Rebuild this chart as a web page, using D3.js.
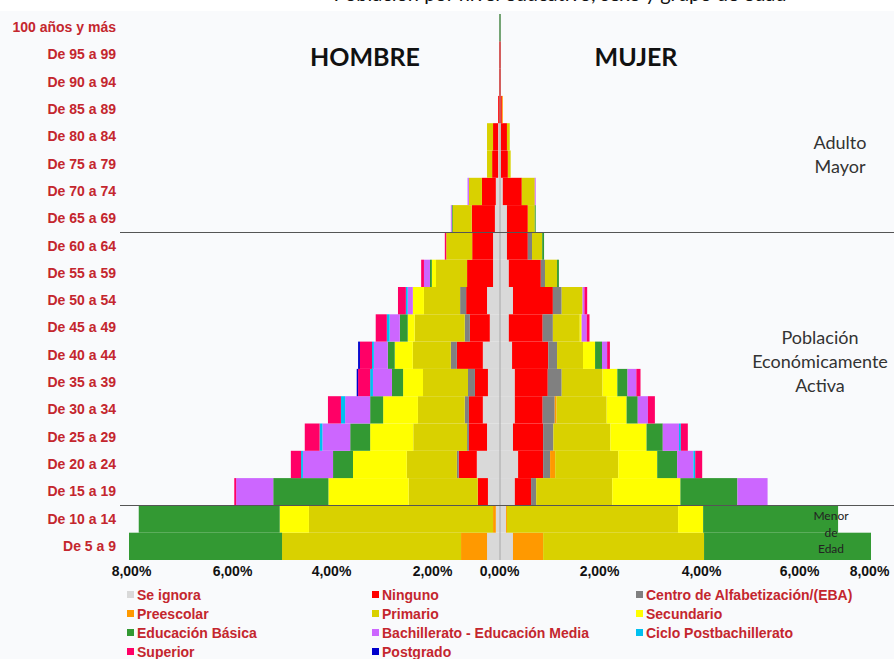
<!DOCTYPE html>
<html>
<head>
<meta charset="utf-8">
<script src="https://cdn.jsdelivr.net/npm/d3@7"></script>
<style>
  html, body { margin: 0; padding: 0; background: #f9fafc; }
  svg { display: block; }
</style>
</head>
<body>
<svg id="chart" width="894" height="659"></svg>
<script>
// ---------- DATA ----------
const ages = ["100 años y más","De 95 a 99","De 90 a 94","De 85 a 89","De 80 a 84","De 75 a 79",
  "De 70 a 74","De 65 a 69","De 60 a 64","De 55 a 59","De 50 a 54","De 45 a 49","De 40 a 44",
  "De 35 a 39","De 30 a 34","De 25 a 29","De 20 a 24","De 15 a 19","De 10 a 14","De 5 a 9"];

const levels = ["Se ignora","Ninguno","Centro de Alfabetización/(EBA)","Preescolar","Primario",
  "Secundario","Educación Básica","Bachillerato - Educación Media","Ciclo Postbachillerato",
  "Superior","Postgrado"];

const levelColors = ["#d9d9d9","#ff0000","#808080","#ff9900","#d9d100","#ffff00","#339933",
  "#cc66ff","#00c0f0","#ff0066","#0000cc"];

// HOMBRE (% of population), rows in the order of `ages`
const hSeIgnora   = [0,0,0,0,0.04,0.04,0.09,0.11,0.15,0.15,0.28,0.22,0.37,0.26,0.37,0.28,0.50,0.26,0.09,0.28];
const hNinguno    = [0,0.02,0.02,0.04,0.11,0.13,0.30,0.50,0.45,0.56,0.45,0.43,0.56,0.28,0.30,0.39,0.39,0.22,0,0];
const hCentro     = [0,0,0,0,0,0,0,0,0,0,0.13,0.11,0.13,0.15,0.09,0.04,0.04,0,0,0];
const hPreescolar = [0,0,0,0,0,0,0,0,0,0,0,0,0,0,0,0,0,0,0.06,0.56];
const hPrimario   = [0,0,0,0,0.13,0.11,0.28,0.41,0.56,0.67,0.78,1.08,0.82,0.97,1.01,1.16,1.08,1.49,3.97,3.86];
const hSecundario = [0,0,0,0,0,0,0,0,0,0.09,0.24,0.15,0.39,0.43,0.75,0.93,1.16,1.73,0.63,0];
const hBasica     = [0.02,0,0,0,0,0,0,0.02,0,0.04,0,0.17,0.15,0.24,0.28,0.43,0.43,1.19,3.04,3.30];
const hBach       = [0,0,0,0,0,0,0.03,0.02,0,0.13,0.11,0.22,0.30,0.41,0.54,0.60,0.65,0.80,0,0];
const hPostbach   = [0,0,0,0,0,0,0,0,0,0,0.04,0.06,0.04,0.06,0.09,0.06,0.04,0,0,0];
const hSuperior   = [0,0,0,0,0,0,0,0,0.03,0.06,0.17,0.24,0.26,0.26,0.28,0.32,0.22,0.04,0,0];
const hPostgrado  = [0,0,0,0,0,0,0,0,0,0,0,0,0.04,0.03,0,0,0,0,0,0];

// MUJER
const mSeIgnora   = [0,0,0,0,0.02,0.02,0.06,0.15,0.15,0.19,0.28,0.19,0.26,0.32,0.32,0.28,0.39,0.32,0.13,0.28];
const mNinguno    = [0,0.02,0.02,0.04,0.13,0.15,0.41,0.45,0.45,0.69,0.86,0.73,0.78,0.71,0.60,0.65,0.54,0.35,0,0];
const mCentro     = [0,0,0,0,0,0,0,0,0.09,0.09,0.19,0.22,0.19,0.30,0.26,0.22,0.15,0.11,0,0];
const mPreescolar = [0,0,0,0.02,0,0,0,0,0,0,0,0,0,0,0.04,0,0.11,0,0.02,0.65];
const mPrimario   = [0,0,0,0,0.06,0.06,0.28,0.15,0.22,0.26,0.45,0.58,0.56,0.88,1.08,1.23,1.36,1.64,3.69,3.47];
const mSecundario = [0,0,0,0,0,0,0,0,0,0,0,0.04,0.26,0.32,0.43,0.78,0.84,1.47,0.54,0];
const mBasica     = [0.02,0,0,0,0,0,0,0.02,0.04,0.04,0,0,0.15,0.22,0.24,0.35,0.43,1.23,2.91,3.60];
const mBach       = [0,0,0,0,0,0,0.02,0,0,0,0.04,0.11,0.11,0.19,0.22,0.35,0.35,0.65,0,0];
const mPostbach   = [0,0,0,0,0,0,0,0,0,0,0,0,0,0,0,0.04,0.04,0,0,0];
const mSuperior   = [0,0,0,0,0,0,0,0,0,0,0.06,0.06,0.06,0.09,0.15,0.15,0.15,0,0,0];
const mPostgrado  = [0,0,0,0,0,0,0,0,0,0,0,0,0,0,0,0,0,0,0,0];

const tickValues = [-8,-6,-4,-2,0,2,4,6,8];
const tickLabels = ["8,00%","6,00%","4,00%","2,00%","0,00%","2,00%","4,00%","6,00%","8,00%"];

const groupLabels = [
  {lines:["Adulto","Mayor"], from:"De 85 a 89", to:"De 65 a 69"},
  {lines:["Población","Económicamente","Activa"], from:"De 50 a 54", to:"De 30 a 34"},
];

// ---------- BUILD ----------
const hSeries = [hSeIgnora,hNinguno,hCentro,hPreescolar,hPrimario,hSecundario,hBasica,hBach,hPostbach,hSuperior,hPostgrado];
const mSeries = [mSeIgnora,mNinguno,mCentro,mPreescolar,mPrimario,mSecundario,mBasica,mBach,mPostbach,mSuperior,mPostgrado];

function table(series){
  return ages.map((a,i)=>{
    const o = {age:a};
    levels.forEach((l,j)=>{ o[l] = series[j][i]; });
    return o;
  });
}

const svg = d3.select("#chart");
const W = 894, H = 659;

// white strip at top with clipped title
svg.append("rect").attr("x",0).attr("y",0).attr("width",W).attr("height",11).attr("fill","#ffffff");
svg.append("text").attr("x",560).attr("y",1)
  .attr("text-anchor","middle")
  .style("font-family","Lato, 'Open Sans', sans-serif").style("font-size","20px").attr("fill","#111")
  .text("Población por nivel educativo, sexo y grupo de edad");

const x = d3.scaleLinear().domain([-8,8]).range([129,871]);
const y = d3.scaleBand().domain(ages).range([14,560]).padding(0);
const color = d3.scaleOrdinal().domain(levels).range(levelColors);

const stack = d3.stack().keys(levels);
const hStack = stack(table(hSeries));
const mStack = stack(table(mSeries));

const bars = svg.append("g");
hStack.forEach(layer=>{
  bars.append("g").attr("fill", color(layer.key))
    .selectAll("rect").data(layer.filter(d=>d[1]-d[0]>0)).join("rect")
    .attr("x", d=>x(-d[1]))
    .attr("width", d=>x(-d[0]) - x(-d[1]))
    .attr("y", d=>y(d.data.age))
    .attr("height", y.bandwidth());
});
mStack.forEach(layer=>{
  bars.append("g").attr("fill", color(layer.key))
    .selectAll("rect").data(layer.filter(d=>d[1]-d[0]>0)).join("rect")
    .attr("x", d=>x(d[0]))
    .attr("width", d=>x(d[1]) - x(d[0]))
    .attr("y", d=>y(d.data.age))
    .attr("height", y.bandwidth());
});

// center axis line
svg.append("line").attr("x1",x(0)).attr("x2",x(0))
  .attr("y1",y(ages[0])).attr("y2",y(ages[ages.length-1])+y.bandwidth())
  .attr("stroke","#a8a8a8").attr("stroke-width",1);

// divider lines
[ "De 60 a 64", "De 10 a 14" ].forEach(a=>{
  svg.append("line").attr("x1",120).attr("x2",W)
    .attr("y1",Math.round(y(a))+0.5).attr("y2",Math.round(y(a))+0.5)
    .attr("stroke","#555").attr("stroke-width",1);
});

// y labels
const yAxis = d3.axisLeft(y).tickSize(0).tickPadding(0);
const gy = svg.append("g").attr("transform","translate(116,0)").call(yAxis);
gy.select(".domain").remove();
gy.selectAll("text")
  .style("font-family","'Liberation Sans', Arial, sans-serif")
  .style("font-weight","bold").style("font-size","14px")
  .attr("fill","#c4262e");

// x tick labels (positions as printed in the original)
const xLab = d3.scaleLinear().domain(tickValues).range([131,232,331,432,499,599,701,799,869]);
const xAxis = d3.axisBottom(xLab).tickValues(tickValues).tickSize(0).tickPadding(0)
  .tickFormat((d,i)=>tickLabels[i]);
const gx = svg.append("g").attr("transform","translate(0,566)").call(xAxis);
gx.select(".domain").remove();
gx.selectAll("text")
  .style("font-family","'Liberation Sans', Arial, sans-serif")
  .style("font-weight","bold").style("font-size","14px")
  .attr("fill","#111");

// HOMBRE / MUJER
svg.append("text").attr("x",365).attr("y",66).attr("text-anchor","middle")
  .style("font-family","Lato, 'Open Sans', sans-serif").style("font-weight","bold").style("font-size","25px")
  .attr("fill","#111").text("HOMBRE");
svg.append("text").attr("x",636).attr("y",66).attr("text-anchor","middle")
  .style("font-family","Lato, 'Open Sans', sans-serif").style("font-weight","bold").style("font-size","25px")
  .attr("fill","#111").text("MUJER");

// group annotations
const ann = svg.append("g")
  .style("font-family","Lato, 'Open Sans', sans-serif").style("font-size","18px").attr("fill","#333");
ann.append("text").attr("x",840).attr("text-anchor","middle")
  .selectAll("tspan").data(["Adulto","Mayor"]).join("tspan")
  .attr("x",840).attr("y",(d,i)=>149+i*24).text(d=>d);
ann.append("text").attr("x",820).attr("text-anchor","middle")
  .selectAll("tspan").data(["Población","Económicamente","Activa"]).join("tspan")
  .attr("x",820).attr("y",(d,i)=>344+i*24).text(d=>d);
svg.append("text").attr("text-anchor","middle")
  .style("font-family","Lato, 'Open Sans', sans-serif").style("font-size","12px").attr("fill","#222")
  .selectAll("tspan").data(["Menor","de","Edad"]).join("tspan")
  .attr("x",831).attr("y",(d,i)=>520+i*16.5).text(d=>d);

// legend
const colX = [127, 372, 636];
const rowY = [595, 614, 633, 652];
const leg = svg.append("g");
levels.forEach((l,i)=>{
  const cx = colX[i%3], cy = rowY[Math.floor(i/3)];
  const g = leg.append("g").attr("transform",`translate(${cx},${cy})`);
  g.append("rect").attr("x",0).attr("y",-4).attr("width",7).attr("height",7).attr("fill",color(l));
  g.append("text").attr("x",10).attr("y",0).attr("dy","0.35em")
    .style("font-family","'Liberation Sans', Arial, sans-serif")
    .style("font-weight","bold").style("font-size","14px")
    .attr("fill","#c4262e").text(l);
});
</script>
</body>
</html>
